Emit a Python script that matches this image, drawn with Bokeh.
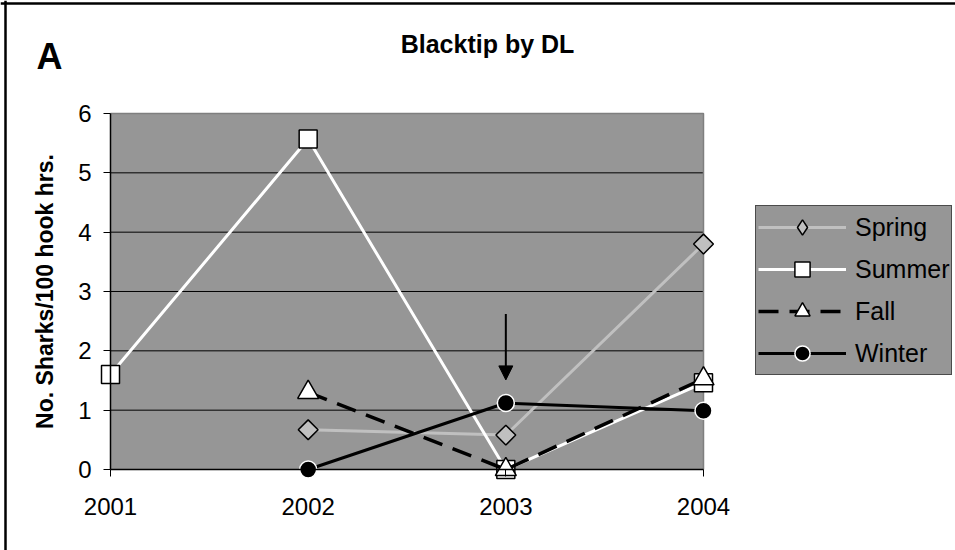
from bokeh.plotting import figure
from bokeh.models import (Range1d, FixedTicker, Label, Arrow, NormalHead,
                          Span, Legend, LegendItem)
from bokeh.embed import file_html
from bokeh.resources import INLINE
import math

nan = float("nan")

# ---- data ----
years = [2001, 2002, 2003, 2004]
year_labels = ["2001", "2002", "2003", "2004"]
spring = [nan, 0.67, 0.58, 3.80]
summer = [1.60, 5.57, 0.0, 1.46]
fall = [nan, 1.30, 0.0, 1.53]
winter = [nan, 0.0, 1.12, 0.99]
y_ticks = [0, 1, 2, 3, 4, 5, 6]
grid_vals = [1, 2, 3, 4, 5]
arrow_year = 2003
arrow_from = 2.62
arrow_to = 1.51

FONT = "Liberation Sans"
BG = "#969696"

# the frame covers the whole canvas; axes sit at fixed locations inside it
p = figure(width=955, height=550, output_backend="svg", toolbar_location=None,
           x_range=Range1d(2000.4435, 2005.2749),
           y_range=Range1d(-1.3652, 7.9045),
           min_border=0, min_border_left=0, min_border_right=0,
           min_border_top=0, min_border_bottom=0)
p.background_fill_color = "white"
p.border_fill_color = "white"
p.outline_line_color = None
p.xgrid.visible = False
p.ygrid.visible = False

# plot area
p.quad(left=years[0], right=years[-1], bottom=y_ticks[0], top=y_ticks[-1],
       fill_color=BG, line_color=None)
p.segment(x0=[years[0]] * len(grid_vals), x1=[years[-1]] * len(grid_vals),
          y0=grid_vals, y1=grid_vals, line_color="black", line_width=1)
p.line(x=[years[0], years[-1], years[-1]], y=[y_ticks[-1], y_ticks[-1], y_ticks[0]],
       line_color="#7f7f7f", line_width=1.5)

# series
sp_l = p.line(years, spring, line_color="#c0c0c0", line_width=3)
sp_m = p.scatter(years, spring, marker="square", angle=math.pi / 4, size=14,
                 fill_color="#c0c0c0", line_color="black", line_width=1.5)
# legend swatch for the diamond marker (legend glyphs are never rotated)
sp_key = p.scatter([nan], [nan], marker="diamond", size=14,
                   fill_color="#c0c0c0", line_color="black", line_width=1.5)

su_l = p.line(years, summer, line_color="white", line_width=3)
su_m = p.scatter(years, summer, marker="square", size=18,
                 fill_color="white", line_color="black", line_width=1.5)

fa_l = p.line(years, fall, line_color="black", line_width=3.5, line_dash="20 11")
fa_m = p.scatter(years, fall, marker="triangle", size=21,
                 fill_color="white", line_color="black", line_width=1.5)

wi_l = p.line(years, winter, line_color="black", line_width=3)
wi_m = p.scatter(years, winter, marker="circle", size=17,
                 fill_color="black", line_color="white", line_width=1.5)

# arrow
p.add_layout(Arrow(end=NormalHead(size=14, fill_color="black", line_color="black"),
                   x_start=arrow_year, y_start=arrow_from, x_end=arrow_year, y_end=arrow_to,
                   line_color="black", line_width=2))

# axes
xa = p.xaxis[0]
xa.fixed_location = 0
xa.bounds = (years[0], years[-1])
xa.ticker = FixedTicker(ticks=years)
xa.major_label_overrides = {y: l for y, l in zip(years, year_labels)}
xa.major_tick_out = 7
xa.major_tick_in = 0
xa.minor_tick_out = 0
xa.minor_tick_in = 0
xa.axis_line_color = "black"
xa.axis_line_width = 1.5
xa.major_label_text_font = FONT
xa.major_label_text_font_size = "24px"
xa.major_label_text_color = "black"
xa.major_label_standoff = 22

ya = p.yaxis[0]
ya.fixed_location = years[0]
ya.bounds = (y_ticks[0], y_ticks[-1])
ya.ticker = FixedTicker(ticks=y_ticks)
ya.major_tick_out = 7
ya.major_tick_in = 0
ya.minor_tick_out = 0
ya.minor_tick_in = 0
ya.axis_line_color = "black"
ya.axis_line_width = 1.5
ya.major_label_text_font = FONT
ya.major_label_text_font_size = "24px"
ya.major_label_text_color = "black"
ya.major_label_standoff = 12
ya.axis_label = "No. Sharks/100 hook hrs."
ya.axis_label_text_font = FONT
ya.axis_label_text_font_size = "23px"
ya.axis_label_text_font_style = "bold"
ya.axis_label_text_color = "black"
ya.axis_label_standoff = 17

# title and panel letter (screen units, from the bottom-left of the canvas)
p.add_layout(Label(x=487, y=507, x_units="screen", y_units="screen", text="Blacktip by DL",
                   text_font=FONT, text_font_size="25px", text_font_style="bold",
                   text_align="center", text_baseline="alphabetic", text_color="black"))
p.add_layout(Label(x=36, y=494, x_units="screen", y_units="screen", text="A",
                   text_font=FONT, text_font_size="36px", text_font_style="bold",
                   text_align="left", text_baseline="alphabetic", text_color="black"))

# legend
lg = Legend(items=[LegendItem(label="Spring", renderers=[sp_l, sp_key]),
                   LegendItem(label="Summer", renderers=[su_l, su_m]),
                   LegendItem(label="Fall", renderers=[fa_l, fa_m]),
                   LegendItem(label="Winter", renderers=[wi_l, wi_m])],
            location=(755, 175))
lg.background_fill_color = BG
lg.background_fill_alpha = 1
lg.border_line_color = "black"
lg.border_line_width = 1
lg.label_text_font = FONT
lg.label_text_font_size = "25px"
lg.label_text_color = "black"
lg.glyph_width = 88
lg.glyph_height = 38
lg.label_height = 29
lg.label_standoff = 9
lg.spacing = 4
lg.padding = 2
lg.margin = 0
p.add_layout(lg)

# outer border (left and top edges, as in the reference crop)
p.add_layout(Span(location=5, location_units="screen", dimension="height",
                  line_color="black", line_width=2.5))
p.add_layout(Span(location=547, location_units="screen", dimension="width",
                  line_color="black", line_width=2.5))

open("out.html", "w").write(file_html(p, INLINE))
